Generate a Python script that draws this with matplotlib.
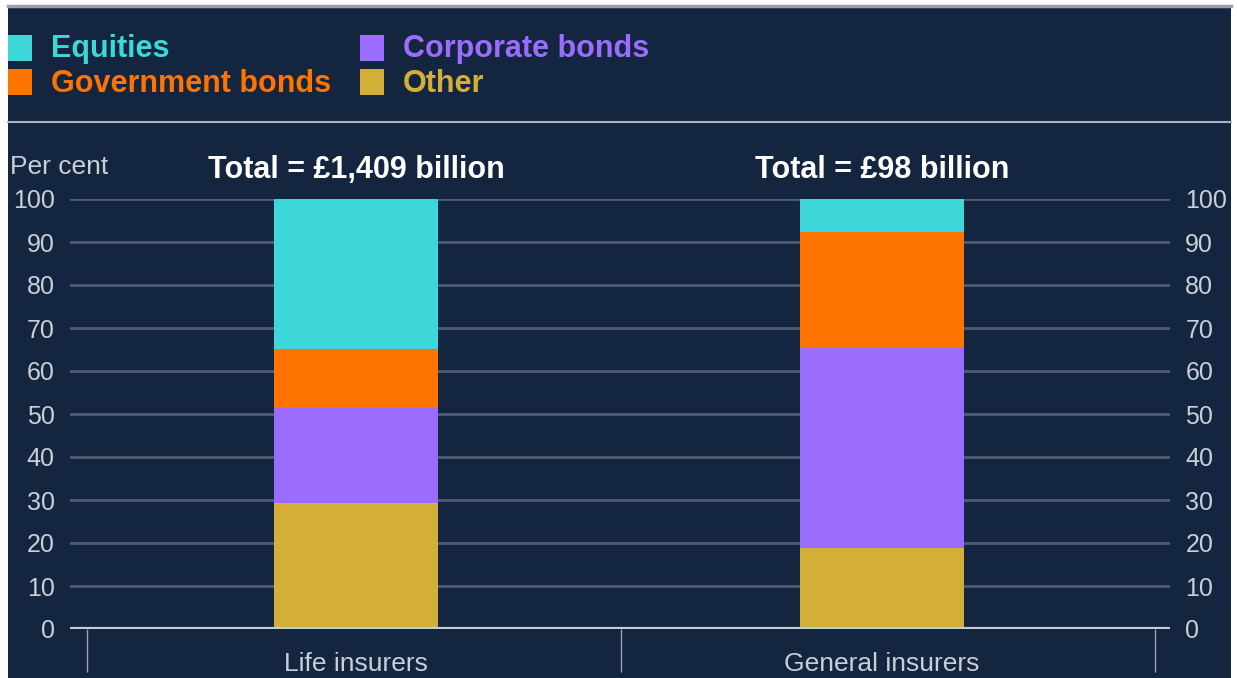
import numpy as np
import matplotlib
matplotlib.use('Agg')
import matplotlib.pyplot as plt
from matplotlib.patches import Rectangle
from matplotlib.lines import Line2D

plt.rcParams['font.family'] = ['Liberation Sans', 'DejaVu Sans']

# Dados
categorias = ['Life insurers', 'General insurers']
totais = ['Total = £1,409 billion', 'Total = £98 billion']
series = ['Other', 'Corporate bonds', 'Government bonds', 'Equities']
valores = {
    'Other': [29.3, 18.8],
    'Corporate bonds': [22.1, 46.5],
    'Government bonds': [13.7, 27.0],
    'Equities': [34.9, 7.7],
}
cores = {
    'Equities': '#3dd6d9',
    'Government bonds': '#ff7300',
    'Corporate bonds': '#9b6dff',
    'Other': '#d4af37',
}
ordem_legenda = ['Equities', 'Government bonds', 'Corporate bonds', 'Other']
yticks = list(range(0, 101, 10))

W, H = 1237, 678
fundo = '#14263f'
cinza = '#c9cfd8'

fig = plt.figure(figsize=(W / 100, H / 100), dpi=100)
fig.patch.set_facecolor('white')

# painel escuro
fig.add_artist(Rectangle((8 / W, 0), (1231 - 8) / W, (H - 8) / H, transform=fig.transFigure,
                         facecolor=fundo, edgecolor='none', zorder=0))
fig.add_artist(Line2D([8 / W, 1231 / W], [1 - 6 / H, 1 - 6 / H], transform=fig.transFigure,
                      color='#9aa2ad', lw=2.5, zorder=1))
fig.add_artist(Line2D([8 / W, 1231 / W], [1 - 122 / H, 1 - 122 / H], transform=fig.transFigure,
                      color='#a9b1bc', lw=1.5, zorder=1))

# legenda
pos_legenda = {'Equities': (8, 48), 'Government bonds': (8, 82),
               'Corporate bonds': (360, 48), 'Other': (360, 82)}
for nome in ordem_legenda:
    x, y = pos_legenda[nome]
    fig.add_artist(Rectangle((x / W, 1 - (y + 13) / H), 24 / W, 26 / H, transform=fig.transFigure,
                             facecolor=cores[nome], edgecolor='none', zorder=2))
    fig.text((x + 43) / W, 1 - (y + 1.5) / H, nome, color=cores[nome], fontsize=22, fontweight='bold',
             va='center', ha='left')

# eixo
x0, x1 = 70, 1170
y0, y1 = 629, 199
ax = fig.add_axes([x0 / W, (H - y0) / H, (x1 - x0) / W, (y0 - y1) / H])
ax.set_facecolor('none')
ax.set_xlim(-0.544, 1.548)
ax.set_ylim(0, 100)

posicoes = np.arange(len(categorias))
base = np.zeros(len(categorias))
for nome in series:
    ax.bar(posicoes, valores[nome], bottom=base, width=0.312, color=cores[nome], zorder=3)
    base += np.array(valores[nome])

for v in yticks[1:]:
    ax.axhline(v, color='#4d5d73', lw=2, zorder=1)
ax.axhline(0, color='#c5ccd5', lw=3, zorder=4)

ax.vlines([-0.511, 0.504, 1.519], -10, 0, colors='#9aa3ae', lw=1, clip_on=False)

for s in ax.spines.values():
    s.set_visible(False)
ax.set_xticks([])
ax.set_yticks(yticks)
ax.tick_params(axis='y', length=0, labelsize=18, labelcolor=cinza, pad=11,
               labelleft=True, labelright=True)

for i, cat in enumerate(categorias):
    ax.text(posicoes[i], -5.3, cat, ha='center', va='top', color=cinza, fontsize=19)
    ax.text(posicoes[i], 106.8, totais[i], ha='center', va='center', color='white',
            fontsize=22, fontweight='bold')

fig.text(10 / W, 1 - 167 / H, 'Per cent', color=cinza, fontsize=19, va='center', ha='left')

fig.savefig('out.png', dpi=100, facecolor=fig.get_facecolor())
